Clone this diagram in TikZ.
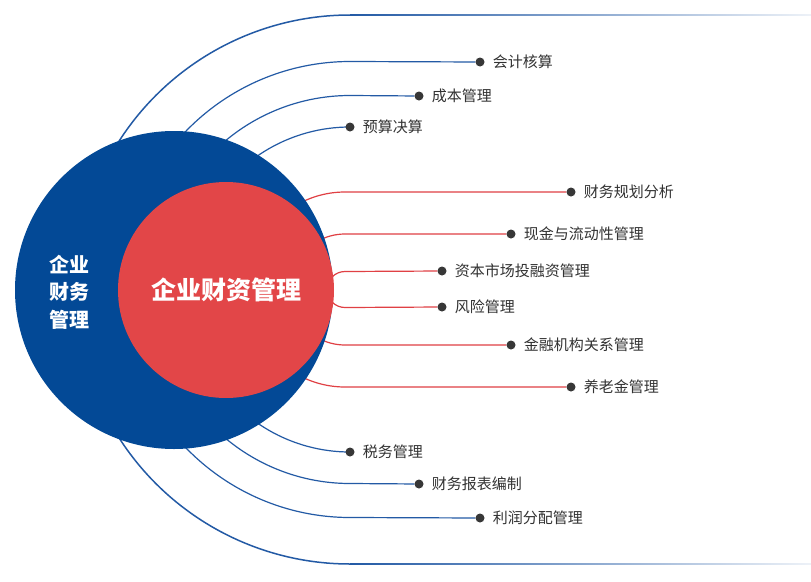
\documentclass[tikz,border=0pt]{standalone}
\usepackage{fontspec}
\usepackage{tikz}
\usetikzlibrary{positioning,backgrounds}
\setmainfont{Noto Sans CJK SC}
\definecolor{fmblue} {RGB}{  3, 73,150}
\definecolor{fmred}  {RGB}{226, 70, 72}
\definecolor{lnblue} {RGB}{ 35, 90,165}
\definecolor{lnred}  {RGB}{224, 64, 68}
\definecolor{dotgray}{RGB}{ 55, 55, 55}
\definecolor{txtgray}{RGB}{ 50, 50, 50}
\tikzset{
  bigblue/.style={circle,fill=fmblue,inner sep=0pt,minimum size=318pt},
  bigred/.style={circle,fill=fmred,inner sep=0pt,minimum size=216pt,
                 text=white,font=\fontsize{25}{30}\selectfont\bfseries},
  sidetxt/.style={align=center,text=white,
                  font=\fontsize{20}{27.5}\selectfont\bfseries},
  dotnode/.style={circle,fill=dotgray,inner sep=0pt,minimum size=9pt},
  lbl/.style={font=\fontsize{15}{17}\selectfont,text=txtgray,inner sep=1pt},
  bline/.style={line width=1.2pt,color=lnblue},
  rline/.style={line width=1.2pt,color=lnred},
}

\begin{document}
\begin{tikzpicture}[x=1pt,y=1pt]
  \node[bigblue](cfm) at (174,-290){};
  \node[bigred](treas) at (226,-290){企业财资管理};
  \node[sidetxt](cfmtxt) at (69,-292){企业\\财务\\管理};
  \coordinate (bhub) at (350,-289.5);
  \coordinate (rhub) at (345,-289.5);
  % blue items
  \node[dotnode](acc) at (480,-62){};
  \node[lbl,right=7pt of acc]{会计核算};
  \node[dotnode](cost) at (419,-96){};
  \node[lbl,right=7pt of cost]{成本管理};
  \node[dotnode](budget) at (350,-127){};
  \node[lbl,right=7pt of budget]{预算决算};
  \node[dotnode](tax) at (350,-452){};
  \node[lbl,right=7pt of tax]{税务管理};
  \node[dotnode](report) at (419,-484){};
  \node[lbl,right=7pt of report]{财务报表编制};
  \node[dotnode](profit) at (480,-518){};
  \node[lbl,right=7pt of profit]{利润分配管理};
  % red items
  \node[dotnode](plan) at (571,-192){};
  \node[lbl,right=7pt of plan]{财务规划分析};
  \node[dotnode](cash) at (511,-234){};
  \node[lbl,right=7pt of cash]{现金与流动性管理};
  \node[dotnode](capital) at (442,-271){};
  \node[lbl,right=7pt of capital]{资本市场投融资管理};
  \node[dotnode](risk) at (442,-307){};
  \node[lbl,right=7pt of risk]{风险管理};
  \node[dotnode](bank) at (511,-345){};
  \node[lbl,right=7pt of bank]{金融机构关系管理};
  \node[dotnode](pension) at (571,-387){};
  \node[lbl,right=7pt of pension]{养老金管理};
  \coordinate (topbeg) at (350,-15);
  \coordinate (topend) at (811,-15);
  \coordinate (botbeg) at (350,-564);
  \coordinate (botend) at (811,-564);

  \begin{scope}[on background layer]
    \fill[white](0,0) rectangle (811,-581);
    % outer fading lines
    \draw[bline,line width=1.5pt]([shift={(150:274.5pt)}]bhub) arc[start angle=150,end angle=90,radius=274.5pt] -- (topbeg);
    \shade[left color=lnblue,right color=lnblue!8]([yshift=-0.75pt]topbeg) rectangle ([yshift=0.75pt]topend);
    \draw[bline,line width=1.5pt]([shift={(210:274.5pt)}]bhub) arc[start angle=210,end angle=270,radius=274.5pt] -- (botbeg);
    \shade[left color=lnblue,right color=lnblue!8]([yshift=-0.75pt]botbeg) rectangle ([yshift=0.75pt]botend);
    % blue connectors
    \draw[bline]([shift={(150:228pt)}]bhub) arc[start angle=150,end angle=90,radius=228pt] -- (acc);
    \draw[bline]([shift={(150:194pt)}]bhub) arc[start angle=150,end angle=90,radius=194pt] -- (cost);
    \draw[bline]([shift={(150:162.5pt)}]bhub) arc[start angle=150,end angle=90,radius=162.5pt] -- (budget);
    \draw[bline]([shift={(210:162.5pt)}]bhub) arc[start angle=210,end angle=270,radius=162.5pt] -- (tax);
    \draw[bline]([shift={(210:194pt)}]bhub) arc[start angle=210,end angle=270,radius=194pt] -- (report);
    \draw[bline]([shift={(210:228pt)}]bhub) arc[start angle=210,end angle=270,radius=228pt] -- (profit);
    % red connectors
    \draw[rline]([shift={(150:97.5pt)}]rhub) arc[start angle=150,end angle=90,radius=97.5pt] -- (plan);
    \draw[rline]([shift={(150:55.5pt)}]rhub) arc[start angle=150,end angle=90,radius=55.5pt] -- (cash);
    \draw[rline]([shift={(180:18pt)}]rhub) arc[start angle=180,end angle=90,radius=18pt] -- (capital);
    \draw[rline]([shift={(180:18pt)}]rhub) arc[start angle=180,end angle=270,radius=18pt] -- (risk);
    \draw[rline]([shift={(210:55.5pt)}]rhub) arc[start angle=210,end angle=270,radius=55.5pt] -- (bank);
    \draw[rline]([shift={(210:97.5pt)}]rhub) arc[start angle=210,end angle=270,radius=97.5pt] -- (pension);
  \end{scope}
\end{tikzpicture}
\end{document}
